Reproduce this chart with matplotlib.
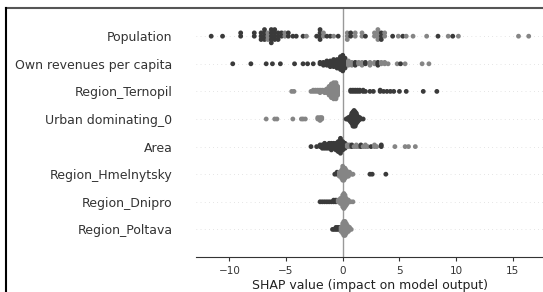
import numpy as np
import matplotlib
matplotlib.use('Agg')
import matplotlib.pyplot as plt
from matplotlib.colors import LinearSegmentedColormap
from matplotlib.lines import Line2D

# features from top to bottom
features = ['Population', 'Own revenues per capita', 'Region_Ternopil',
            'Urban dominating_0', 'Area', 'Region_Hmelnytsky',
            'Region_Dnipro', 'Region_Poltava']

# (shap value, number of points, feature value 1=high / 0=low)
population = [(-11.6, 1, 1), (-10.6, 1, 1), (-9.0, 2, 1), (-7.8, 2, 1), (-7.2, 3, 1),
              (-6.9, 4, 1), (-6.6, 3, 0), (-6.3, 5, 1), (-6.0, 4, 1), (-5.7, 3, 1),
              (-5.4, 2, 1), (-5.1, 2, 0), (-4.8, 2, 1), (-4.4, 1, 1), (-4.1, 1, 1),
              (-3.5, 1, 1), (-3.2, 1, 0), (-2.3, 1, 1), (-2.0, 4, 1), (-1.7, 2, 0),
              (-1.4, 1, 1), (-1.1, 1, 1), (-0.8, 1, 0), (-0.4, 1, 1), (0.4, 3, 0),
              (0.7, 2, 1), (1.1, 2, 0), (1.7, 2, 0), (2.0, 1, 1), (2.8, 2, 0),
              (3.1, 4, 0), (3.4, 3, 1), (3.7, 2, 0), (4.4, 1, 1), (4.9, 1, 0),
              (5.3, 1, 1), (5.6, 1, 0), (6.2, 1, 0), (7.4, 1, 0), (8.4, 1, 1),
              (9.3, 1, 0), (9.7, 1, 1), (10.2, 1, 0), (15.5, 1, 0), (16.4, 1, 0)]
own_revenues = [(-9.7, 1, 1), (-8.1, 1, 1), (-6.75, 1, 1), (-6.2, 1, 1), (-5.5, 1, 1),
                (-4.25, 1, 1), (-3.5, 1, 1), (-3.1, 1, 1), (-2.6, 1, 1), (-2.0, 2, 1),
                (-1.7, 3, 1), (-1.4, 4, 1), (-1.1, 5, 1), (-0.8, 6, 1), (-0.5, 7, 1),
                (-0.2, 10, 1), (0.0, 12, 1), (0.2, 8, 1), (0.5, 4, 0), (0.8, 3, 0),
                (1.1, 3, 1), (1.4, 2, 0), (1.7, 3, 0), (2.0, 2, 1), (2.4, 3, 0),
                (2.8, 2, 0), (3.1, 3, 1), (3.4, 2, 0), (3.7, 2, 0), (4.0, 1, 0),
                (4.8, 1, 0), (5.1, 1, 1), (5.5, 1, 0), (7.0, 1, 0), (7.6, 1, 0)]
ternopil = [(-4.5, 1, 0), (-4.3, 1, 0), (-2.8, 1, 0), (-2.6, 2, 0), (-2.4, 2, 0),
            (-2.2, 2, 0), (-2.0, 3, 0), (-1.8, 2, 0), (-1.6, 3, 0), (-1.4, 4, 0),
            (-1.2, 8, 0), (-1.0, 12, 0), (-0.8, 14, 0), (-0.6, 14, 0), (-0.45, 8, 0),
            (0.7, 2, 1), (0.9, 2, 1), (1.1, 2, 1), (1.3, 2, 1), (1.5, 2, 1),
            (1.8, 2, 1), (2.0, 1, 1), (2.4, 1, 1), (2.7, 1, 1), (3.3, 2, 1),
            (3.6, 1, 1), (3.9, 1, 1), (4.2, 1, 1), (4.5, 1, 1), (5.0, 1, 1),
            (5.6, 1, 1), (7.1, 1, 1), (8.3, 1, 1)]
urban = [(-6.75, 1, 0), (-6.0, 1, 0), (-5.8, 1, 0), (-4.4, 1, 0), (-3.65, 1, 0),
         (-3.5, 1, 0), (-3.3, 1, 0), (-2.2, 2, 0), (-2.0, 3, 0), (-1.85, 2, 0),
         (0.3, 1, 1), (0.4, 1, 1), (0.5, 2, 1), (0.6, 3, 1), (0.7, 5, 1),
         (0.8, 8, 1), (0.9, 11, 1), (1.0, 12, 1), (1.1, 11, 1), (1.2, 8, 1),
         (1.3, 5, 1), (1.4, 3, 1), (1.5, 2, 1), (1.6, 1, 1), (1.8, 1, 1)]
area = [(-2.8, 1, 1), (-2.3, 1, 1), (-2.0, 2, 1), (-1.8, 3, 1), (-1.6, 4, 1),
        (-1.4, 3, 1), (-1.2, 4, 1), (-1.0, 5, 1), (-0.8, 4, 1), (-0.6, 5, 1),
        (-0.4, 7, 1), (-0.2, 10, 1), (0.0, 6, 1), (0.2, 4, 1), (0.4, 2, 0),
        (0.6, 2, 0), (0.8, 2, 1), (1.0, 1, 0), (1.2, 2, 0), (1.4, 1, 0),
        (1.6, 2, 1), (1.8, 1, 0), (2.0, 2, 0), (2.2, 1, 0), (2.5, 1, 1),
        (2.8, 2, 0), (3.0, 1, 0), (3.4, 2, 1), (4.6, 1, 0), (5.5, 1, 0),
        (5.8, 1, 0), (6.4, 1, 0)]
hmelnytsky = [(-0.7, 1, 1), (-0.5, 2, 1), (-0.3, 3, 0), (-0.1, 5, 0), (0.0, 8, 0),
              (0.1, 7, 0), (0.2, 6, 0), (0.3, 4, 0), (0.4, 3, 0), (0.5, 3, 0),
              (0.6, 2, 0), (0.8, 1, 0), (0.9, 1, 0), (2.4, 1, 1), (2.6, 1, 1),
              (3.8, 1, 1)]
dnipro = [(-2.0, 1, 1), (-1.8, 1, 1), (-1.6, 1, 1), (-1.4, 1, 1), (-1.2, 1, 1),
          (-1.0, 1, 1), (-0.8, 2, 1), (-0.6, 2, 1), (-0.4, 2, 0), (-0.2, 4, 0),
          (0.0, 8, 0), (0.1, 10, 0), (0.2, 8, 0), (0.3, 5, 0), (0.4, 3, 0),
          (0.5, 2, 0), (0.7, 1, 0), (0.9, 1, 0)]
poltava = [(-0.9, 1, 1), (-0.75, 1, 1), (-0.6, 2, 1), (-0.45, 2, 1), (-0.3, 2, 1),
           (-0.15, 3, 0), (0.0, 6, 0), (0.1, 8, 0), (0.2, 8, 0), (0.3, 6, 0),
           (0.4, 4, 0), (0.5, 3, 0), (0.6, 2, 0), (0.75, 1, 0)]

rows = [population, own_revenues, ternopil, urban, area, hmelnytsky, dnipro, poltava]


def beeswarm(shaps, row_height=0.4, nbins=100):
    # same stacking as shap's summary plot
    quant = np.round(nbins * (shaps - shaps.min()) / (shaps.max() - shaps.min() + 1e-8))
    inds = np.argsort(quant, kind='stable')
    ys = np.zeros(len(shaps))
    layer = 0
    last_bin = -1
    for ind in inds:
        if quant[ind] != last_bin:
            layer = 0
        ys[ind] = np.ceil(layer / 2) * ((layer % 2) * 2 - 1)
        layer += 1
        last_bin = quant[ind]
    ys *= 0.9 * (row_height / np.max(ys + 1))
    return ys


cmap = LinearSegmentedColormap.from_list('grays', ['#858585', '#3a3a3a'])

fig = plt.figure(figsize=(5.43, 2.92), dpi=100)
ax = fig.add_axes([196 / 543, 1 - 257 / 292, 347 / 543, (257 - 8.6) / 292])

n = len(features)
ax.axvline(0, color='#999999', lw=1, zorder=-1)
for i, data in enumerate(rows):
    pos = n - 1 - i
    ax.axhline(pos, color='#cccccc', lw=0.5, dashes=(1, 5), zorder=-1)
    shaps = np.repeat([d[0] for d in data], [d[1] for d in data]).astype(float)
    vals = np.repeat([d[2] for d in data], [d[1] for d in data]).astype(float)
    ys = beeswarm(shaps)
    ax.scatter(shaps, pos + ys, c=vals, cmap=cmap, vmin=0, vmax=1, s=12,
               linewidth=0, alpha=1, zorder=3)

ax.set_xlim(-12.94, 17.66)
ax.set_ylim(-1, n)
ax.set_yticks(range(n))
ax.set_yticklabels(features[::-1], fontsize=9, color='#333333')
ax.tick_params(axis='y', length=0, pad=17)
ax.tick_params(axis='x', labelsize=7.5, color='#333333', labelcolor='#333333', length=3)
ax.set_xticks([-10, -5, 0, 5, 10, 15])
for s in ['top', 'right', 'left']:
    ax.spines[s].set_visible(False)
ax.spines['bottom'].set_color('#333333')
ax.set_xlabel('SHAP value (impact on model output)', fontsize=9, labelpad=2, color='#222222')

# frame of the screenshot
fig.add_artist(Line2D([6 / 543, 1], [1 - 8 / 292] * 2, transform=fig.transFigure,
                      color='#555555', lw=1.5))
fig.add_artist(Line2D([6 / 543] * 2, [0, 1 - 8 / 292], transform=fig.transFigure,
                      color='black', lw=1.5))

fig.savefig('out.png', dpi=100)
